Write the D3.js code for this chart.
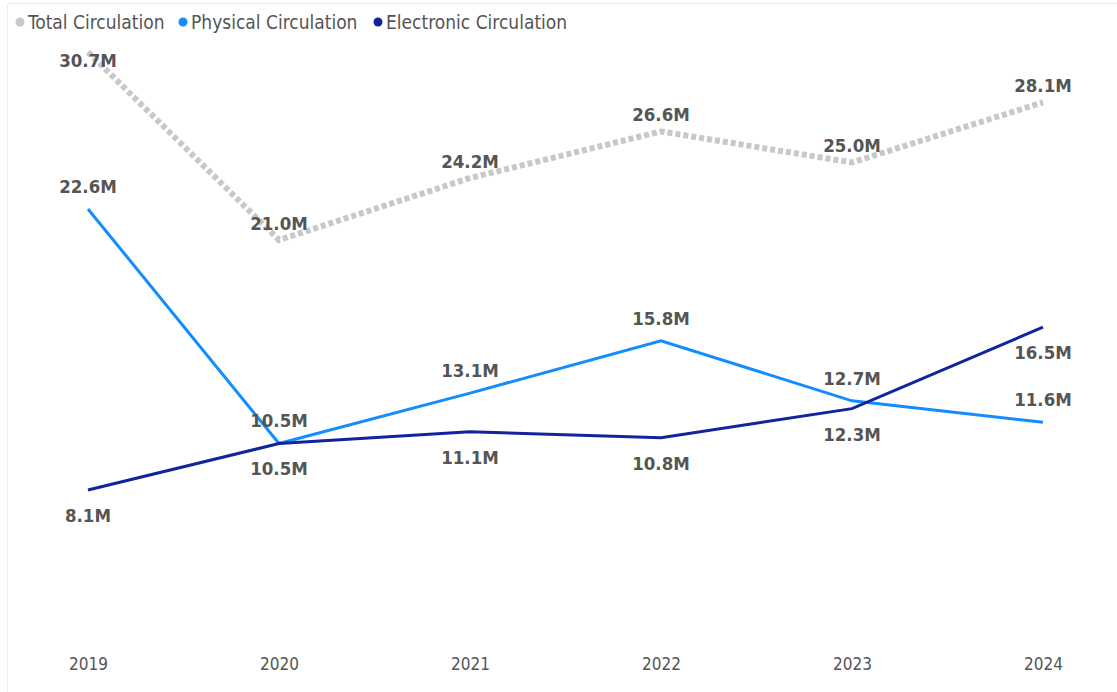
<!DOCTYPE html>
<html>
<head>
<meta charset="utf-8">
<script src="https://cdn.jsdelivr.net/npm/d3@7"></script>
<style>
  body { margin: 0; background: #fff; }
  text { font-family: "DejaVu Sans Condensed", "Roboto", sans-serif; }
</style>
</head>
<body>
<script>
var width = 1117,
    height = 692

// data
var years = ["2019", "2020", "2021", "2022", "2023", "2024"]
var totalCirc = [30.7, 21.0, 24.2, 26.6, 25.0, 28.1]
var physicalCirc = [22.6, 10.5, 13.1, 15.8, 12.7, 11.6]
var electronicCirc = [8.1, 10.5, 11.1, 10.8, 12.3, 16.5]
var seriesNames = ["Total Circulation", "Physical Circulation", "Electronic Circulation"]

var series = [
    {name: seriesNames[0], values: totalCirc, color: "#c8c8c8", width: 6, dash: "5,3", label: "above", off: 10},
    {name: seriesNames[1], values: physicalCirc, color: "#118dff", width: 3, dash: null, label: "above", off: 16},
    {name: seriesNames[2], values: electronicCirc, color: "#12239e", width: 3, dash: null, label: "below", off: 32}
]

var svg = d3.select("body").append("svg")
    .attr("width", width)
    .attr("height", height)

// faint visual border
svg.append("path")
    .attr("d", "M7.5," + height + "V3.5H" + width)
    .attr("fill", "none")
    .attr("stroke", "#ececec")

var x = d3.scalePoint()
    .domain(years)
    .range([88, 1043])

var y = d3.scaleLinear()
    .domain([0, 30.7])
    .range([647, 52])

// x axis
var xAxis = svg.append("g")
    .attr("transform", "translate(0,647)")
    .call(d3.axisBottom(x).tickSize(0).tickPadding(11))
xAxis.select(".domain").remove()
xAxis.selectAll("text")
    .style("font-size", "17px")
    .style("font-family", "DejaVu Sans Condensed")
    .attr("fill", "#555")

var line = d3.line()
    .x(function(d, i) { return x(years[i]) })
    .y(function(d) { return y(d) })

series.forEach(function(s) {
    svg.append("path")
        .datum(s.values)
        .attr("fill", "none")
        .attr("stroke", s.color)
        .attr("stroke-width", s.width)
        .attr("stroke-dasharray", s.dash)
        .attr("d", line)
})

// data labels
series.forEach(function(s) {
    svg.append("g").selectAll("text")
        .data(s.values)
        .enter()
        .append("text")
        .attr("x", function(d, i) { return x(years[i]) })
        .attr("y", function(d) {
            var py = s.label == "above" ? y(d) - s.off : y(d) + s.off
            return Math.max(py, 67)
        })
        .attr("text-anchor", "middle")
        .style("font-size", "18.5px")
        .style("font-weight", "bold")
        .attr("fill", "#555")
        .text(function(d) { return d.toFixed(1) + "M" })
})

// legend
var legendX = [20, 183, 378]
var legend = svg.append("g")
legend.selectAll("g")
    .data(series)
    .enter()
    .append("g")
    .attr("transform", function(d, i) { return "translate(" + legendX[i] + ",22)" })
    .each(function(d) {
        var g = d3.select(this)
        g.append("circle").attr("r", 4.5).attr("fill", d.color)
        g.append("text")
            .attr("x", 8)
            .attr("dy", "0.35em")
            .style("font-size", "19px")
            .attr("fill", "#555")
            .text(d.name)
    })
</script>
</body>
</html>
